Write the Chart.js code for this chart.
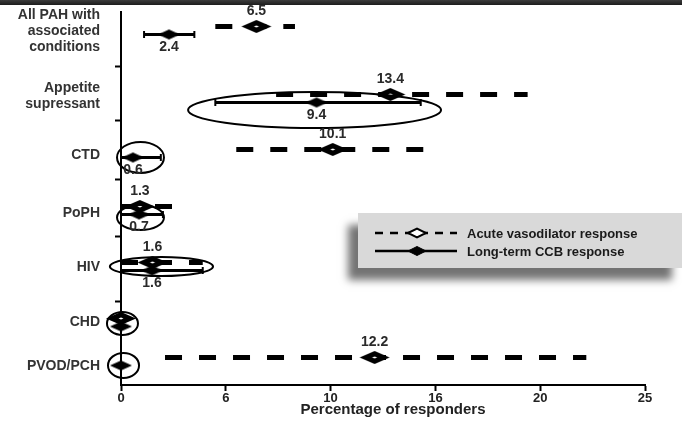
<!DOCTYPE html>
<html><head><meta charset="utf-8">
<script src="https://cdn.jsdelivr.net/npm/chart.js@4/dist/chart.umd.min.js"></script>
<style>
html,body{margin:0;padding:0;background:#fff;}
#wrap{position:relative;width:682px;height:422px;overflow:hidden;background:#fff;}
#c{position:absolute;left:0;top:0;}
#topband{position:absolute;left:0;top:0;width:682px;height:5px;background:linear-gradient(#3c3c3c,#1c1c1c);}
#legend{position:absolute;left:358px;top:213px;width:324px;height:55px;background:#d9d9d9;box-shadow:-10px 12px 8px rgba(0,0,0,0.55);font:bold 13px "Liberation Sans",Arial,sans-serif;color:#1a1a1a;}
#legend .row{position:absolute;left:17px;height:16px;display:flex;align-items:center;white-space:nowrap;}
#legend svg{margin-right:10px;display:block;}
</style></head>
<body>
<div id="wrap">
<canvas id="c" width="682" height="422"></canvas>
<div id="topband"></div>
<div id="legend">
 <div class="row" style="top:12px"><svg width="82" height="16"><line x1="0" y1="8" x2="82" y2="8" stroke="#000" stroke-width="2.5" stroke-dasharray="8 7"/><polygon points="33,8 42,3.5 51,8 42,12.5" fill="#fff" stroke="#000" stroke-width="2"/></svg><span>Acute vasodilator response</span></div>
 <div class="row" style="top:30px"><svg width="82" height="16"><line x1="0" y1="8" x2="82" y2="8" stroke="#000" stroke-width="2.5"/><polygon points="33,8 42,3.5 51,8 42,12.5" fill="#000" stroke="#000" stroke-width="1"/></svg><span>Long-term CCB response</span></div>
</div>
</div>
<script>
// ---- data ----
const categories = [['All PAH with','associated','conditions'], ['Appetite','supressant'], 'CTD', 'PoPH', 'HIV', 'CHD', 'PVOD/PCH'];
const acuteEst    = [6.46, 12.85, 10.1, 0.9, 1.5, 0, 12.1];
const acuteLow    = [4.5, 7.4, 5.5, 0, 0, 0, 2.1];
const acuteHigh   = [8.3, 19.4, 14.7, 3.2, 3.9, 0, 22.2];
const acuteLabels = ['6.5', '13.4', '10.1', '1.3', '1.6', '', '12.2'];
const ccbEst      = [2.29, 9.33, 0.57, 0.86, 1.48, 0, 0];
const ccbLow      = [1.1, 4.5, 0, 0, 0, 0, 0];
const ccbHigh     = [3.5, 14.3, 1.9, 2.0, 3.9, 0, 0];
const ccbLabels   = ['2.4', '9.4', '0.6', '0.7', '1.6', '', ''];
const xTickLabels = ['0', '6', '10', '16', '20', '25'];
const seriesNames = ['Acute vasodilator response', 'Long-term CCB response'];
const xTitle = 'Percentage of responders';

// ---- layout (axis units of the vertical scale) ----
const rowSlots = [0.347, 1.623, 2.655, 3.725, 4.776, 5.826, 6.558];
const labelSlots = [0.36, 1.58, 2.68, 3.77, 4.79, 5.82, 6.64];
const rowTickMarks = [1.03, 2.045, 3.15, 4.22, 5.44];
const seriesShift = 0.075;
// highlight ellipses: x in data units, y in vertical axis units
const ellipseMarks = [
  {x0: 3.20, x1: 15.27, y0: 1.501, y1: 2.177},
  {x0: -0.19, x1: 2.05, y0: 2.439, y1: 3.021},
  {x0: -0.19, x1: 2.05, y0: 3.622, y1: 4.091},
  {x0: -0.53, x1: 4.39, y0: 4.597, y1: 4.954},
  {x0: -0.67, x1: 0.81, y0: 5.630, y1: 6.061},
  {x0: -0.62, x1: 0.86, y0: 6.399, y1: 6.868}
];

const FONT = '"Liberation Sans", Arial, sans-serif';

function makeDiamond(w, h, hollow) {
  const c = document.createElement('canvas');
  c.width = w + 2; c.height = h + 2;
  const g = c.getContext('2d');
  const cx = c.width / 2, cy = c.height / 2;
  g.beginPath();
  g.moveTo(cx - w / 2, cy); g.lineTo(cx, cy - h / 2); g.lineTo(cx + w / 2, cy); g.lineTo(cx, cy + h / 2); g.closePath();
  g.fillStyle = '#000'; g.fill();
  if (hollow) {
    g.beginPath();
    g.moveTo(cx - 2.5, cy); g.lineTo(cx, cy - 1); g.lineTo(cx + 2.5, cy); g.lineTo(cx, cy + 1); g.closePath();
    g.fillStyle = '#fff'; g.fill();
  }
  return c;
}
const acuteDiamond = makeDiamond(30, 13, true);
const ccbDiamond = makeDiamond(22, 10, false);

const datasets = [];
categories.forEach((cat, i) => {
  const ya = rowSlots[i] - seriesShift;
  const yc = rowSlots[i] + seriesShift;
  datasets.push({
    label: seriesNames[0], series: 'acute', valueText: acuteLabels[i],
    data: [{x: acuteLow[i], y: ya}, {x: acuteEst[i], y: ya}, {x: acuteHigh[i], y: ya}],
    showLine: true, borderColor: '#000', borderWidth: 5, borderDash: [17, 17], borderCapStyle: 'butt',
    pointStyle: ctx => ctx.dataIndex === 1 ? acuteDiamond : 'circle',
    pointRadius: ctx => ctx.dataIndex === 1 ? 14 : 0,
    pointBackgroundColor: '#000', pointBorderColor: '#000',
    clip: false
  });
  const hasRange = ccbHigh[i] > ccbLow[i];
  datasets.push({
    label: seriesNames[1], series: 'ccb', valueText: ccbLabels[i],
    data: [{x: ccbLow[i], y: yc}, {x: ccbEst[i], y: yc}, {x: ccbHigh[i], y: yc}],
    showLine: true, borderColor: '#000', borderWidth: 3,
    pointStyle: ctx => ctx.dataIndex === 1 ? ccbDiamond : 'line',
    pointRotation: ctx => ctx.dataIndex === 1 ? 0 : 90,
    pointRadius: ctx => ctx.dataIndex === 1 ? 11 : (hasRange ? 3.5 : 0),
    pointBorderWidth: 2, pointBackgroundColor: '#000', pointBorderColor: '#000',
    clip: false
  });
});

const ellipsePlugin = {
  id: 'ellipses',
  afterDatasetsDraw(chart) {
    const {ctx, scales} = chart;
    const sx = scales.x, sy = scales.y;
    ctx.save();
    ctx.strokeStyle = '#000'; ctx.lineWidth = 2;
    ellipseMarks.forEach(e => {
      const a = sx.getPixelForValue(e.x0), b = sx.getPixelForValue(e.x1);
      const t = sy.getPixelForValue(e.y0), u = sy.getPixelForValue(e.y1);
      ctx.beginPath();
      ctx.ellipse((a + b) / 2, (t + u) / 2, Math.abs(b - a) / 2, Math.abs(u - t) / 2, 0, 0, Math.PI * 2);
      ctx.stroke();
    });
    ctx.restore();
  }
};

const valueLabelPlugin = {
  id: 'valueLabels',
  afterDatasetsDraw(chart) {
    const ctx = chart.ctx;
    ctx.save();
    ctx.font = 'bold 14px ' + FONT;
    ctx.fillStyle = '#2a2a2a';
    ctx.textAlign = 'center';
    ctx.textBaseline = 'middle';
    chart.data.datasets.forEach((ds, di) => {
      if (!ds.valueText) return;
      const pt = chart.getDatasetMeta(di).data[1];
      const dy = ds.series === 'acute' ? -15 : 13;
      ctx.fillText(ds.valueText, pt.x, pt.y + dy);
    });
    ctx.restore();
  }
};

const axisTitlePlugin = {
  id: 'axisTitle',
  afterDraw(chart) {
    const {ctx, scales} = chart;
    const sx = scales.x;
    ctx.save();
    ctx.font = 'bold 15px ' + FONT;
    ctx.fillStyle = '#222';
    ctx.textAlign = 'center';
    ctx.textBaseline = 'middle';
    ctx.fillText(xTitle, (sx.left + sx.right) / 2 + 10, sx.bottom - 12);
    ctx.restore();
  }
};

function zeroPad(scale) { scale.paddingLeft = 0; scale.paddingRight = 0; scale.paddingTop = 0; scale.paddingBottom = 0; }

new Chart(document.getElementById('c'), {
  type: 'scatter',
  data: { datasets },
  plugins: [ellipsePlugin, valueLabelPlugin, axisTitlePlugin],
  options: {
    responsive: false,
    devicePixelRatio: 1,
    animation: false,
    events: [],
    layout: { padding: { top: 12, right: 37, bottom: 0, left: 0 } },
    plugins: { legend: { display: false }, tooltip: { enabled: false } },
    scales: {
      x: {
        type: 'linear', position: 'bottom', min: 0, max: 25,
        ticks: { stepSize: 5, callback: (v, i) => xTickLabels[i], font: { family: FONT, size: 13, weight: 'bold' }, color: '#222', padding: 0, maxRotation: 0 },
        grid: { drawOnChartArea: false, drawTicks: true, tickLength: 6, tickColor: '#000', tickWidth: 2 },
        border: { display: true, color: '#000', width: 2 },
        afterFit: s => { zeroPad(s); s.height = 37; }
      },
      y: {
        type: 'linear', position: 'left', weight: 0, min: 0, max: 7, reverse: true,
        afterBuildTicks: axis => { axis.ticks = rowTickMarks.map(v => ({ value: v })); },
        ticks: { display: false },
        grid: { drawOnChartArea: false, drawTicks: true, tickLength: 6, tickColor: '#000', tickWidth: 2 },
        border: { display: true, color: '#000', width: 2 },
        afterFit: s => { zeroPad(s); s.width = 21; }
      },
      yl: {
        type: 'linear', position: 'left', weight: 1, min: 0, max: 7, reverse: true,
        afterBuildTicks: axis => { axis.ticks = labelSlots.map(v => ({ value: v })); },
        ticks: { autoSkip: false, callback: (v, i) => categories[i], font: { family: FONT, size: 14, weight: 'bold', lineHeight: 1.143 }, color: '#333', padding: 0 },
        grid: { display: false, drawTicks: false },
        border: { display: false },
        afterFit: s => { zeroPad(s); s.width = 100; }
      }
    }
  }
});
</script>
</body></html>
